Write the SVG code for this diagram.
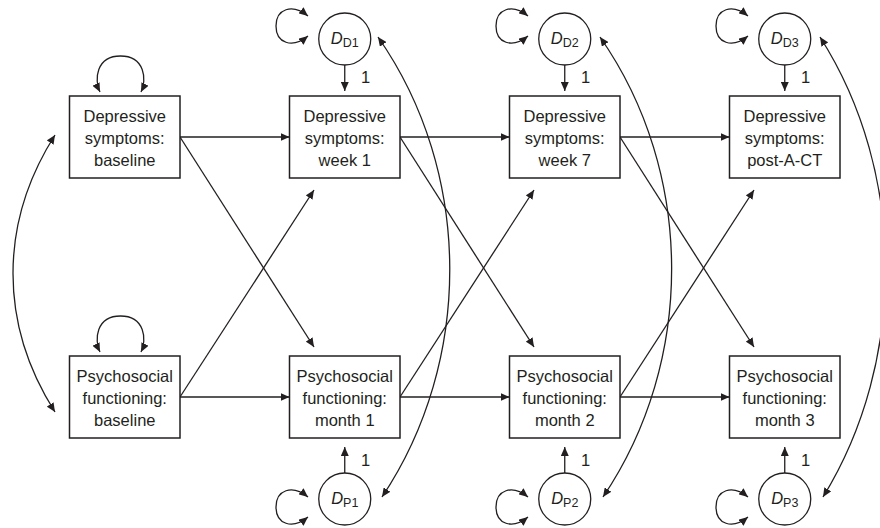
<svg xmlns="http://www.w3.org/2000/svg" width="880" height="528" viewBox="0 0 880 528">
<defs>
<marker id="ah" viewBox="0 0 9 8" refX="9" refY="4" markerWidth="9" markerHeight="8" markerUnits="userSpaceOnUse" orient="auto-start-reverse"><path d="M0,0 L9,4 L0,8 Z" fill="#231f20"/></marker>
<style>
.box{fill:#fff;stroke:#231f20;stroke-width:1.5}
.circ{fill:#fff;stroke:#231f20;stroke-width:1.3}
.lbl{font-family:"Liberation Sans",Arial,sans-serif;font-size:16.5px;fill:#231f20;text-anchor:middle}
.sub{font-size:12.5px;font-style:normal}
.it{font-style:italic}
.c{fill:none;stroke:#231f20;stroke-width:1.3}
.a{marker-end:url(#ah)}
.b{marker-start:url(#ah);marker-end:url(#ah)}
</style>
</defs>
<rect width="880" height="528" fill="#fff"/>
<g id="connectors">
<path class="c a" d="M180,137 H289.5"/>
<path class="c a" d="M400,137 H509.5"/>
<path class="c a" d="M620,137 H729.5"/>
<path class="c a" d="M180,397 H289.5"/>
<path class="c a" d="M400,397 H509.5"/>
<path class="c a" d="M620,397 H729.5"/>
<path class="c a" d="M180,137 L314,347"/>
<path class="c a" d="M400,137 L534,347"/>
<path class="c a" d="M620,137 L754,347"/>
<path class="c a" d="M180,397 L314,190"/>
<path class="c a" d="M400,397 L534,190"/>
<path class="c a" d="M620,397 L754,190"/>
<path class="c a" d="M344.75,65 V91"/>
<path class="c a" d="M564.75,65 V91"/>
<path class="c a" d="M784.75,65 V91"/>
<path class="c a" d="M344.75,473 V447"/>
<path class="c a" d="M564.75,473 V447"/>
<path class="c a" d="M784.75,473 V447"/>
<text class="lbl" x="365.5" y="83">1</text>
<text class="lbl" x="585.5" y="83">1</text>
<text class="lbl" x="805.5" y="83">1</text>
<text class="lbl" x="365.5" y="466">1</text>
<text class="lbl" x="585.5" y="466">1</text>
<text class="lbl" x="805.5" y="466">1</text>
<path class="c b" d="M100,92 C94,80 96,56 120.5,56 C145,56 147,80 141,92"/>
<path class="c b" d="M100,352 C94,340 96,316 120.5,316 C145,316 147,340 141,352"/>
<path class="c b" d="M308,16 C292,3 276,9 276,26 C276,43 292,49 308,36"/>
<path class="c b" d="M528,16 C512,3 496,9 496,26 C496,43 512,49 528,36"/>
<path class="c b" d="M748,16 C732,3 716,9 716,26 C716,43 732,49 748,36"/>
<path class="c b" d="M308,497 C292,484 276,490 276,507 C276,524 292,530 308,517"/>
<path class="c b" d="M528,497 C512,484 496,490 496,507 C496,524 512,530 528,517"/>
<path class="c b" d="M748,497 C732,484 716,490 716,507 C716,524 732,530 748,517"/>
<path class="c b" d="M55,135 C-1,223 -1,324 55,412"/>
<path class="c b" d="M378,37 C473,173 473,361 382,497"/>
<path class="c b" d="M600,37 C695,173 695,361 603,497"/>
<path class="c b" d="M820,37 C907,173 907,361 823,497"/>
</g>
<g id="dep-baseline"><rect class="box" x="69.5" y="96" width="110.5" height="82"/><text class="lbl" x="124.75" y="121.5">Depressive<tspan x="124.75" dy="22">symptoms:</tspan><tspan x="124.75" dy="22">baseline</tspan></text></g>
<g id="dep-week1"><rect class="box" x="289.5" y="96" width="110.5" height="82"/><text class="lbl" x="344.75" y="121.5">Depressive<tspan x="344.75" dy="22">symptoms:</tspan><tspan x="344.75" dy="22">week 1</tspan></text></g>
<g id="dep-week7"><rect class="box" x="509.5" y="96" width="110.5" height="82"/><text class="lbl" x="564.75" y="121.5">Depressive<tspan x="564.75" dy="22">symptoms:</tspan><tspan x="564.75" dy="22">week 7</tspan></text></g>
<g id="dep-post"><rect class="box" x="729.5" y="96" width="110.5" height="82"/><text class="lbl" x="784.75" y="121.5">Depressive<tspan x="784.75" dy="22">symptoms:</tspan><tspan x="784.75" dy="22">post-A-CT</tspan></text></g>
<g id="psy-baseline"><rect class="box" x="69.5" y="356" width="110.5" height="82"/><text class="lbl" x="124.75" y="381.5">Psychosocial<tspan x="124.75" dy="22">functioning:</tspan><tspan x="124.75" dy="22">baseline</tspan></text></g>
<g id="psy-month1"><rect class="box" x="289.5" y="356" width="110.5" height="82"/><text class="lbl" x="344.75" y="381.5">Psychosocial<tspan x="344.75" dy="22">functioning:</tspan><tspan x="344.75" dy="22">month 1</tspan></text></g>
<g id="psy-month2"><rect class="box" x="509.5" y="356" width="110.5" height="82"/><text class="lbl" x="564.75" y="381.5">Psychosocial<tspan x="564.75" dy="22">functioning:</tspan><tspan x="564.75" dy="22">month 2</tspan></text></g>
<g id="psy-month3"><rect class="box" x="729.5" y="356" width="110.5" height="82"/><text class="lbl" x="784.75" y="381.5">Psychosocial<tspan x="784.75" dy="22">functioning:</tspan><tspan x="784.75" dy="22">month 3</tspan></text></g>
<g id="DD1"><circle class="circ" cx="344.75" cy="39" r="26"/><text class="lbl" x="344.75" y="44"><tspan class="it">D</tspan><tspan class="sub" dy="3">D1</tspan></text></g>
<g id="DD2"><circle class="circ" cx="564.75" cy="39" r="26"/><text class="lbl" x="564.75" y="44"><tspan class="it">D</tspan><tspan class="sub" dy="3">D2</tspan></text></g>
<g id="DD3"><circle class="circ" cx="784.75" cy="39" r="26"/><text class="lbl" x="784.75" y="44"><tspan class="it">D</tspan><tspan class="sub" dy="3">D3</tspan></text></g>
<g id="DP1"><circle class="circ" cx="344.75" cy="499" r="26"/><text class="lbl" x="344.75" y="504"><tspan class="it">D</tspan><tspan class="sub" dy="3">P1</tspan></text></g>
<g id="DP2"><circle class="circ" cx="564.75" cy="499" r="26"/><text class="lbl" x="564.75" y="504"><tspan class="it">D</tspan><tspan class="sub" dy="3">P2</tspan></text></g>
<g id="DP3"><circle class="circ" cx="784.75" cy="499" r="26"/><text class="lbl" x="784.75" y="504"><tspan class="it">D</tspan><tspan class="sub" dy="3">P3</tspan></text></g>
</svg>
